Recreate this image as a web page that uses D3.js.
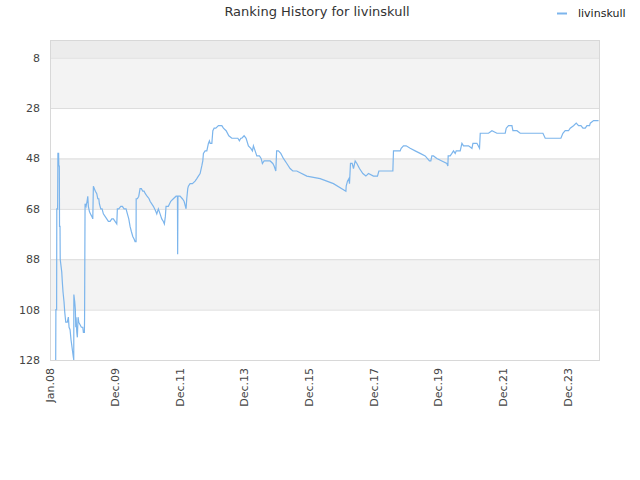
<!DOCTYPE html>
<html><head><meta charset="utf-8">
<script src="https://cdn.jsdelivr.net/npm/d3@7/dist/d3.min.js"></script>
<style>body{margin:0;background:#fff}svg{font-family:"DejaVu Sans",Verdana,sans-serif}</style>
</head><body><svg id="c" width="640" height="480"></svg>
<script>
const title = "Ranking History for livinskull";
const seriesName = "livinskull";
// dates as decimal years
const dates = [2008.176,2008.182,2008.204,2008.210,2008.235,2008.244,2008.266,2008.272,2008.288,2008.294,2008.309,2008.315,2008.362,2008.380,2008.402,2008.433,2008.455,2008.486,2008.535,2008.566,2008.588,2008.619,2008.649,2008.680,2008.721,2008.733,2008.736,2008.764,2008.782,2008.795,2008.804,2008.826,2008.844,2008.866,2008.888,2008.928,2008.968,2009.011,2009.030,2009.061,2009.067,2009.082,2009.113,2009.144,2009.166,2009.184,2009.215,2009.246,2009.290,2009.321,2009.339,2009.370,2009.401,2009.444,2009.475,2009.506,2009.525,2009.568,2009.608,2009.648,2009.701,2009.753,2009.803,2009.856,2009.908,2009.958,2010.010,2010.063,2010.081,2010.125,2010.186,2010.236,2010.289,2010.350,2010.391,2010.434,2010.474,2010.514,2010.558,2010.598,2010.629,2010.660,2010.663,2010.700,2010.743,2010.783,2010.824,2010.867,2010.907,2010.947,2011.000,2011.062,2011.093,2011.195,2011.269,2011.300,2011.349,2011.402,2011.454,2011.504,2011.535,2011.566,2011.587,2011.658,2011.733,2011.813,2011.897,2011.940,2011.946,2011.955,2012.020,2012.091,2012.144,2012.206,2012.227,2012.258,2012.277,2012.330,2012.401,2012.484,2012.537,2012.586,2012.639,2012.691,2012.722,2012.741,2012.793,2012.846,2012.895,2012.926,2012.948,2013.001,2013.032,2013.072,2013.124,2013.205,2013.310,2013.359,2013.443,2013.526,2013.619,2013.721,2013.805,2013.854,2013.897,2013.928,2013.999,2014.061,2014.132,2014.207,2014.256,2014.287,2014.340,2014.392,2014.473,2014.525,2014.565,2014.618,2014.701,2014.804,2014.887,2014.927,2014.980,2015.005,2015.060,2015.134,2015.215,2015.320,2015.422,2015.506,2015.629,2015.938,2016.350,2016.761,2017.145,2017.154,2017.194,2017.237,2017.256,2017.287,2017.339,2017.380,2017.432,2017.485,2017.565,2017.670,2017.763,2017.843,2017.998,2018.122,2018.165,2018.227,2018.598,2018.617,2018.722,2018.824,2018.855,2018.926,2019.009,2019.133,2019.288,2019.442,2019.597,2019.730,2019.773,2019.804,2019.854,2019.959,2020.113,2020.268,2020.299,2020.308,2020.370,2020.423,2020.472,2020.525,2020.556,2020.679,2020.732,2020.781,2020.936,2021.041,2021.072,2021.196,2021.276,2021.298,2021.400,2021.554,2021.660,2021.814,2021.895,2022.071,2022.102,2022.173,2022.278,2022.309,2022.433,2022.535,2022.742,2023.051,2023.237,2023.308,2023.463,2023.670,2023.793,2023.855,2023.926,2024.029,2024.081,2024.183,2024.267,2024.338,2024.412,2024.474,2024.545,2024.598,2024.678,2024.700,2024.802,2024.885,2024.956];
const ranks = [128,108,108,68,68,46,46,51,51,75,75,88,93,97,101,105,109,113,113,111,115,116,120,123,127,128,102,105,108,115,111,117,119,111,113,114,115,115,117,117,111,66,67,65,63,67,69,70,71,72,59,60,61,62,64,64,66,68,68,70,71,72,73,73,72,72,73,74,68,68,67,67,68,68,70,72,75,77,79,80,81,81,64,64,63,60,60,61,61,62,63,64,65,67,69,70,68,70,72,73,74,71,67,67,65,64,63,63,86,63,63,64,65,68,64,60,59,58,58,57,56,55,54,51,49,46,45,45,42,41,42,42,37,36,36,35,35,36,37,39,40,40,40,41,40,40,39,40,43,44,45,43,45,47,47,48,50,49,49,49,50,51,53,45,45,46,48,50,52,53,53,55,56,58,61,59,57,56,58,50,50,52,49,50,52,54,55,54,55,55,53,53,53,45,45,45,44,43,43,44,45,46,47,49,49,47,47,48,49,50,51,47,47,46,45,46,45,45,42,43,43,44,42,42,44,38,38,38,37,38,38,38,36,35,35,37,37,38,38,38,38,40,40,40,40,38,37,37,36,35,34,35,35,36,36,35,35,34,33,33,33];
const yTicks = [8,28,48,68,88,108,128];
const xTickDates = ["2008-01-01","2009-12-31","2011-12-31","2013-12-31","2015-12-31","2017-12-31","2019-12-31","2021-12-31","2023-12-31"];
const xTickLabels = ["Jan.08","Dec.09","Dec.11","Dec.13","Dec.15","Dec.17","Dec.19","Dec.21","Dec.23"];
const greyBands = [[8,28],[48,68],[88,108]];
const topBand = [1,8];

function decToDate(v){const y=Math.floor(v);const s=new Date(y,0,1),e=new Date(y+1,0,1);return new Date(s.getTime()+(v-y)*(e-s));}
const data = dates.map((d,i)=>({date:decToDate(d),rank:ranks[i]}));

const svg = d3.select("#c");
const L=50,R=600,T=40,B=360;
const x = d3.scaleTime().domain([new Date(2008,0,1),new Date(2025,0,1)]).range([L,R]);
const y = d3.scaleLinear().domain([1,128]).range([T,B]);

// bands
svg.append("rect").attr("x",L).attr("y",y(topBand[0])).attr("width",R-L).attr("height",y(topBand[1])-y(topBand[0])).attr("fill","#ececec");
svg.selectAll(".band").data(greyBands).enter().append("rect")
  .attr("x",L).attr("y",d=>y(d[0])).attr("width",R-L).attr("height",d=>y(d[1])-y(d[0])).attr("fill","#f3f3f3");

// grid
svg.append("g").selectAll("line").data(yTicks).enter().append("line")
  .attr("x1",L).attr("x2",R).attr("y1",d=>y(d)+0.5).attr("y2",d=>y(d)+0.5).attr("stroke","#dcdcdc");

// y axis labels
const ya = svg.append("g").attr("transform",`translate(${L},0)`)
  .call(d3.axisLeft(y).tickValues(yTicks).tickSize(0).tickPadding(10));
ya.select(".domain").remove();
ya.selectAll("text").attr("font-size","11px").attr("fill","#444").attr("font-family","DejaVu Sans, sans-serif");

// x axis
const xa = svg.append("g").attr("transform",`translate(0,${B})`)
  .call(d3.axisBottom(x).tickValues(xTickDates.map(d=>new Date(d+"T00:00:00"))).tickFormat((d,i)=>xTickLabels[i]).tickSize(0).tickPadding(6));
xa.select(".domain").remove();
xa.selectAll("text").attr("font-size","11px").attr("fill","#444").attr("font-family","DejaVu Sans, sans-serif")
  .attr("transform","rotate(-90)").attr("text-anchor","end").attr("x",-8).attr("y",0).attr("dy","0.35em");

// plot border
svg.append("rect").attr("x",L+0.5).attr("y",T+0.5).attr("width",R-L-1).attr("height",B-T).attr("fill","none").attr("stroke","#d8d8d8");

// line
svg.append("path").datum(data).attr("fill","none").attr("stroke","#7cb5ec").attr("stroke-width",1.2)
  .attr("d",d3.line().x(d=>x(d.date)).y(d=>y(d.rank)));

// title
svg.append("text").attr("x",317).attr("y",16).attr("text-anchor","middle").attr("font-size","13px").attr("fill","#333").text(title);
// legend
svg.append("line").attr("x1",557).attr("x2",567).attr("y1",13.5).attr("y2",13.5).attr("stroke","#7cb5ec").attr("stroke-width",2);
svg.append("text").attr("x",578).attr("y",17).attr("font-size","11px").attr("fill","#222").text(seriesName);
</script></body></html>
